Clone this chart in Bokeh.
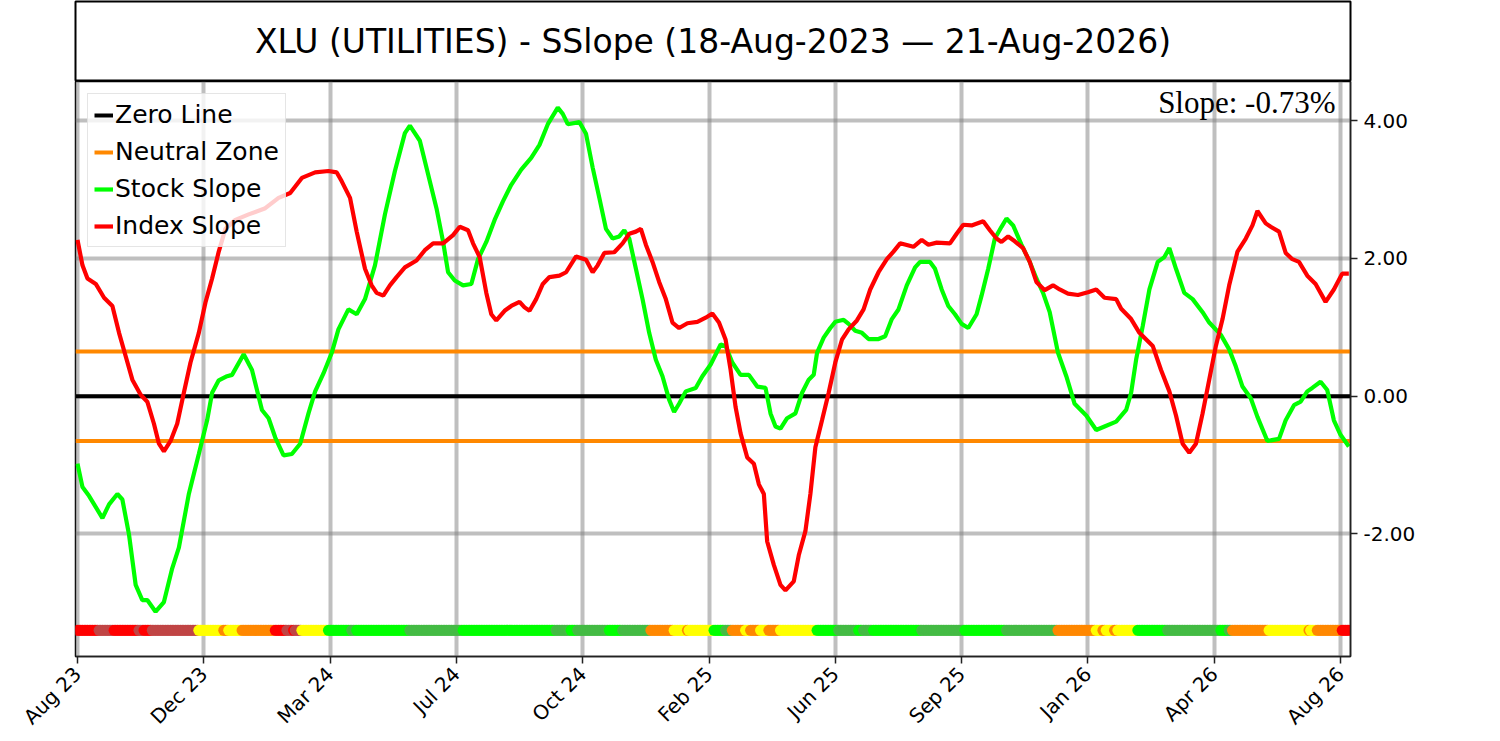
import math
from bokeh.plotting import figure
from bokeh.models import (Range1d, FixedTicker, PrintfTickFormatter, Legend, LegendItem, Label)
from bokeh.layouts import column
from bokeh.embed import file_html
from bokeh.resources import INLINE

TITLE = "XLU (UTILITIES) - SSlope (18-Aug-2023 \u2014 21-Aug-2026)"
SLOPE_TEXT = "Slope: -0.73%"

tick_bars = [0, 76, 152, 228, 304, 380, 456, 532, 608, 684, 760]
tick_labels = ["Aug 23", "Dec 23", "Mar 24", "Jul 24", "Oct 24", "Feb 25",
               "Jun 25", "Sep 25", "Jan 26", "Apr 26", "Aug 26"]
y_ticks = [-2, 0, 2, 4]
NEUTRAL = 0.65
N_BARS = 766
STRIP_Y = -3.40
X_LO, X_HI = -1.2, 766.0
Y_LO, Y_HI = -3.78, 4.57

stock_x = [0, 3, 7, 15, 19, 24, 27, 31, 35, 39, 42, 47, 52, 57, 61, 67, 73, 78, 81, 85,
           90, 93, 100, 105, 111, 115, 119, 124, 129, 134, 139, 143, 148, 153, 157, 163, 168, 173, 179, 185,
           191, 197, 200, 206, 211, 216, 220, 223, 227, 232, 237, 241, 246, 251, 256, 261, 267, 273, 278, 283,
           289, 292, 295, 302, 306, 310, 314, 318, 322, 326, 329, 332, 336, 340, 344, 348, 352, 356, 359, 362,
           366, 372, 376, 381, 387, 390, 394, 399, 404, 409, 414, 417, 420, 423, 427, 432, 436, 440, 443, 445,
           449, 453, 456, 461, 464, 468, 472, 476, 482, 486, 490, 494, 499, 504, 507, 513, 516, 520, 524, 528,
           532, 536, 541, 544, 548, 552, 556, 559, 563, 568, 573, 577, 581, 585, 590, 595, 600, 607, 613, 618,
           625, 631, 634, 637, 641, 645, 650, 654, 657, 661, 666, 671, 677, 681, 688, 693, 697, 701, 706, 710,
           716, 723, 727, 732, 736, 740, 743, 748, 752, 756, 760, 765]
stock_y = [-0.98, -1.32, -1.45, -1.77, -1.57, -1.42, -1.50, -2.01, -2.74, -2.96, -2.96, -3.13, -2.99, -2.50, -2.20, -1.42, -0.84, -0.35, 0.05, 0.23,
           0.29, 0.31, 0.61, 0.38, -0.20, -0.32, -0.60, -0.86, -0.84, -0.69, -0.25, 0.07, 0.33, 0.63, 0.97, 1.26, 1.19, 1.41, 1.90, 2.64,
           3.27, 3.82, 3.93, 3.71, 3.22, 2.73, 2.24, 1.80, 1.68, 1.61, 1.63, 1.99, 2.24, 2.56, 2.83, 3.07, 3.29, 3.46, 3.65, 3.95,
           4.19, 4.10, 3.95, 3.98, 3.81, 3.32, 2.88, 2.43, 2.29, 2.32, 2.41, 2.29, 1.85, 1.41, 0.92, 0.53, 0.29, -0.05, -0.23, -0.11,
           0.07, 0.12, 0.29, 0.46, 0.75, 0.73, 0.49, 0.31, 0.31, 0.14, 0.12, -0.25, -0.44, -0.47, -0.32, -0.25, 0.05, 0.24, 0.31, 0.63,
           0.85, 0.99, 1.08, 1.11, 1.05, 0.95, 0.92, 0.83, 0.83, 0.87, 1.12, 1.26, 1.61, 1.87, 1.95, 1.95, 1.85, 1.55, 1.31, 1.19,
           1.05, 0.99, 1.19, 1.46, 1.85, 2.29, 2.46, 2.58, 2.48, 2.20, 1.95, 1.71, 1.50, 1.22, 0.63, 0.29, -0.11, -0.28, -0.49, -0.44,
           -0.37, -0.20, 0.05, 0.53, 1.02, 1.55, 1.95, 2.02, 2.15, 1.85, 1.50, 1.41, 1.22, 1.07, 0.89, 0.68, 0.43, 0.14, -0.03, -0.30,
           -0.65, -0.62, -0.35, -0.13, -0.08, 0.07, 0.12, 0.21, 0.09, -0.35, -0.56, -0.73]

index_x = [0, 3, 6, 11, 16, 21, 25, 29, 33, 38, 42, 46, 49, 52, 56, 60, 64, 68, 73, 77,
           81, 85, 89, 95, 103, 113, 121, 128, 135, 143, 151, 156, 159, 164, 168, 173, 177, 180, 184, 188,
           192, 197, 204, 209, 214, 220, 226, 230, 235, 238, 242, 246, 249, 252, 257, 261, 266, 269, 272, 276,
           280, 284, 290, 294, 300, 306, 310, 313, 317, 323, 328, 332, 336, 339, 342, 346, 350, 354, 358, 362,
           367, 373, 378, 382, 386, 390, 393, 396, 399, 403, 407, 410, 413, 415, 419, 423, 426, 431, 434, 438,
           441, 444, 448, 452, 456, 460, 464, 469, 473, 477, 482, 487, 491, 495, 503, 508, 512, 517, 525, 529,
           533, 538, 545, 549, 553, 556, 560, 564, 569, 573, 577, 582, 587, 591, 596, 602, 608, 613, 618, 625,
           628, 634, 639, 647, 652, 657, 661, 665, 669, 673, 677, 681, 685, 689, 693, 698, 703, 707, 710, 715,
           718, 723, 727, 731, 735, 740, 745, 751, 756, 761, 765]
index_y = [2.27, 1.90, 1.71, 1.63, 1.43, 1.31, 0.92, 0.58, 0.24, 0.02, -0.08, -0.40, -0.69, -0.80, -0.65, -0.40, 0.05, 0.49, 0.92, 1.36,
           1.71, 2.10, 2.43, 2.56, 2.64, 2.73, 2.88, 2.95, 3.17, 3.25, 3.27, 3.25, 3.12, 2.88, 2.39, 1.85, 1.61, 1.50, 1.46, 1.61,
           1.73, 1.87, 1.97, 2.12, 2.22, 2.22, 2.34, 2.46, 2.41, 2.22, 2.02, 1.50, 1.19, 1.10, 1.24, 1.31, 1.37, 1.29, 1.24, 1.41,
           1.63, 1.73, 1.75, 1.80, 2.03, 1.98, 1.80, 1.90, 2.08, 2.09, 2.22, 2.36, 2.39, 2.43, 2.20, 1.95, 1.66, 1.41, 1.07, 0.99,
           1.06, 1.08, 1.14, 1.20, 1.07, 0.82, 0.38, -0.16, -0.54, -0.89, -0.98, -1.28, -1.42, -2.11, -2.45, -2.74, -2.82, -2.69, -2.31, -1.96,
           -1.42, -0.74, -0.35, 0.05, 0.49, 0.82, 0.97, 1.10, 1.26, 1.55, 1.80, 1.99, 2.10, 2.22, 2.17, 2.27, 2.20, 2.23, 2.22, 2.36,
           2.49, 2.48, 2.54, 2.41, 2.29, 2.24, 2.32, 2.25, 2.15, 1.95, 1.66, 1.54, 1.61, 1.55, 1.49, 1.47, 1.51, 1.55, 1.43, 1.41,
           1.27, 1.12, 0.92, 0.73, 0.38, 0.07, -0.28, -0.69, -0.82, -0.69, -0.25, 0.24, 0.73, 1.12, 1.61, 2.10, 2.29, 2.48, 2.69, 2.51,
           2.46, 2.39, 2.08, 1.99, 1.95, 1.75, 1.63, 1.37, 1.55, 1.78, 1.78]

RED, BROWN, YELLOW, ORANGE, GREEN, DGREEN = "#ff0000", "#c04545", "#ffff00", "#ff8800", "#00ff00", "#44bb44"
strip_start = [0, 13, 22, 37, 40, 45, 73, 88, 91, 99, 119, 126, 130, 131, 135, 151, 165, 168, 200, 232,
               288, 297, 301, 320, 328, 345, 359, 367, 368, 383, 390, 394, 402, 405, 411, 416, 423, 445, 458, 470,
               473, 479, 508, 534, 559, 590, 613, 617, 619, 624, 626, 638, 656, 688, 693, 695, 717, 741, 742, 746,
               761]
strip_end = strip_start[1:] + [N_BARS]
strip_color = [RED, BROWN, RED, BROWN, RED, BROWN, YELLOW, ORANGE, YELLOW, ORANGE, RED, BROWN, RED, BROWN, YELLOW, GREEN, DGREEN, GREEN, DGREEN, GREEN,
               DGREEN, GREEN, DGREEN, GREEN, DGREEN, ORANGE, YELLOW, ORANGE, YELLOW, GREEN, DGREEN, ORANGE, YELLOW, ORANGE, YELLOW, ORANGE, YELLOW, GREEN, DGREEN, GREEN,
               DGREEN, GREEN, DGREEN, GREEN, DGREEN, ORANGE, YELLOW, ORANGE, YELLOW, ORANGE, YELLOW, GREEN, DGREEN, GREEN, DGREEN, ORANGE, YELLOW, ORANGE, YELLOW, ORANGE,
               RED]

# ---- geometry ----
LEFT, RIGHT, FRAME_W = 75, 75, 1275
TITLE_H = 81
FRAME_H, BOTTOM = 577, 82
FONT = "DejaVu Sans"

# ---- title box ----
t = figure(width=LEFT + FRAME_W + RIGHT, height=TITLE_H, min_border_left=LEFT, min_border_right=RIGHT,
           min_border_top=1, min_border_bottom=0, x_range=Range1d(0, 1), y_range=Range1d(0, 1),
           toolbar_location=None, output_backend="svg")
t.axis.visible = False
t.grid.visible = False
t.outline_line_color = "black"
t.outline_line_width = 2
t.add_layout(Label(x=FRAME_W / 2, y=40.5, x_units="screen", y_units="screen", text=TITLE,
                   text_align="center", text_baseline="middle", text_font=FONT, text_font_size="33px",
                   text_color="black"))

# ---- main plot ----
p = figure(width=LEFT + FRAME_W + RIGHT, height=FRAME_H + BOTTOM, min_border_left=LEFT,
           min_border_right=RIGHT, min_border_top=0, min_border_bottom=BOTTOM,
           x_range=Range1d(X_LO, X_HI), y_range=Range1d(Y_LO, Y_HI), y_axis_location="right",
           toolbar_location=None, output_backend="svg")
p.outline_line_color = "black"
p.outline_line_width = 1.5

p.xaxis.ticker = FixedTicker(ticks=tick_bars)
p.xaxis.major_label_overrides = {b: l for b, l in zip(tick_bars, tick_labels)}
p.xaxis.major_label_orientation = math.pi / 4
p.yaxis.ticker = FixedTicker(ticks=y_ticks)
p.yaxis.formatter = PrintfTickFormatter(format="%.2f")
for ax in (p.xaxis, p.yaxis):
    ax.major_label_text_font = FONT
    ax.major_label_text_font_size = "20px"
    ax.major_label_text_color = "black"
    ax.major_tick_out = 7
    ax.major_tick_in = 0
    ax.minor_tick_line_color = None
    ax.axis_line_width = 1.5
    ax.major_tick_line_width = 1.5
    ax.axis_line_color = "#222222"
    ax.major_tick_line_color = "#222222"
    ax.major_label_standoff = 6
p.xaxis.major_label_standoff = 7
for g in (p.xgrid, p.ygrid):
    g.grid_line_color = "gray"
    g.grid_line_alpha = 0.5
    g.grid_line_width = 4

zero_r = p.line([X_LO, X_HI], [0, 0], line_color="black", line_width=4)
neutral_r = p.multi_line([[X_LO, X_HI], [X_LO, X_HI]], [[NEUTRAL, NEUTRAL], [-NEUTRAL, -NEUTRAL]],
                         line_color=ORANGE, line_width=4)
stock_r = p.line(stock_x, stock_y, line_color=GREEN, line_width=4.2)
index_r = p.line(index_x, index_y, line_color=RED, line_width=4.2)

bars, colors = [], []
for s, e, c in zip(strip_start, strip_end, strip_color):
    for b in range(s, e):
        bars.append(b)
        colors.append(c)
p.scatter(bars, [STRIP_Y] * len(bars), size=11, fill_color=colors, line_color=None)

legend = Legend(items=[LegendItem(label="Zero Line", renderers=[zero_r]),
                       LegendItem(label="Neutral Zone", renderers=[neutral_r]),
                       LegendItem(label="Stock Slope", renderers=[stock_r]),
                       LegendItem(label="Index Slope", renderers=[index_r])],
                location="top_left", margin=12, padding=6, spacing=8,
                glyph_width=19, label_standoff=2,
                label_text_font=FONT, label_text_font_size="25px", label_text_color="black",
                border_line_color="#cccccc", border_line_width=1.5,
                background_fill_color="white", background_fill_alpha=0.8)
p.add_layout(legend)

p.add_layout(Label(x=FRAME_W - 15, y=FRAME_H - 5, x_units="screen", y_units="screen", text=SLOPE_TEXT,
                   text_align="right", text_baseline="top", text_font="Liberation Serif",
                   text_font_size="31px", text_color="black"))

layout = column(t, p)
open("out.html", "w").write(file_html(layout, INLINE))
